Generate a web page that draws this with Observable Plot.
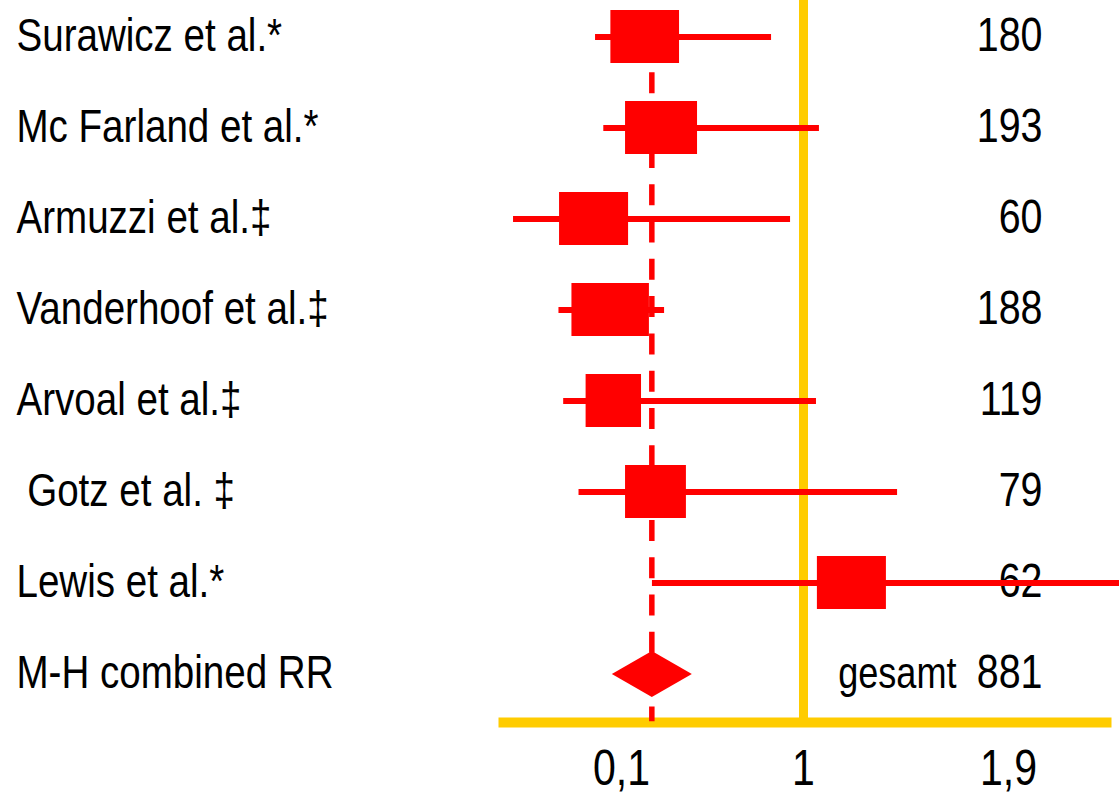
<!DOCTYPE html>
<html>
<head>
<meta charset="utf-8">
<script src="https://cdn.jsdelivr.net/npm/d3@7"></script>
<script src="https://cdn.jsdelivr.net/npm/@observablehq/plot@0.6"></script>
<style>
  html, body { margin: 0; padding: 0; background: #fff; overflow: hidden; }
</style>
</head>
<body>
<div id="chart"></div>
<script>
// ---- data ----
const studies = ["Surawicz et al.*", "Mc Farland et al.*", "Armuzzi et al.\u2021", "Vanderhoof et al.\u2021", "Arvoal et al.\u2021", "\u00a0Gotz et al. \u2021", "Lewis et al.*"];
const patients = [180, 193, 60, 188, 119, 79, 62];
const ciLow  = [0.078, 0.085, 0.0085, 0.047, 0.051, 0.064, 0.253];
const ciHigh = [0.842, 1.070, 0.936, 0.313, 1.057, 1.413, 2.39];
const boxLow  = [0.091, 0.120, 0.0475, 0.058, 0.070, 0.120, 1.061];
const boxHigh = [0.387, 0.476, 0.135, 0.238, 0.199, 0.421, 1.364];
const combinedLabel = "M-H combined RR";
const combinedRR = 0.25;
const totalLabel = "gesamt";
const totalPatients = 881;
const tickValues = [0.1, 1, 1.9];

// ---- table built from the arrays ----
const rows = studies.map((s, i) => ({study: s, n: patients[i], lo: ciLow[i], hi: ciHigh[i], b1: boxLow[i], b2: boxHigh[i]}));
const combined = [{study: combinedLabel, rr: combinedRR, n: totalPatients, label: totalLabel, from: studies[1]}];
const allRows = [...rows, ...combined];

const RED = "#ff0000";
const YELLOW = "#ffcc00";
const FONT = "'Liberation Sans', Arial, sans-serif";

const chart = Plot.plot({
  width: 1119,
  height: 797,
  marginLeft: 503,
  marginRight: 13,
  marginTop: 0,
  marginBottom: 75,
  style: {fontFamily: FONT, fontSize: "51px", color: "black", background: "white"},
  x: {type: "linear", domain: [0, 0.1, 1, 1.9], range: [503, 621, 803, 1008]},
  y: {type: "band", domain: allRows.map(d => d.study), range: [-10.6, 719.8], padding: 0, axis: null},
  marks: [
    Plot.ruleX([1], {stroke: YELLOW, strokeWidth: 9}),
    Plot.frame({anchor: "bottom", stroke: YELLOW, strokeWidth: 10}),
    Plot.axisX({ticks: tickValues, tickSize: 0, tickPadding: 27, fontSize: 50, fill: "black",
      tickFormat: d => String(d).replace(".", ","), label: null}),
    Plot.ruleX(combined, {x: "rr", y1: "from", y2: "study", insetTop: -9.7, insetBottom: -2.2, stroke: RED, strokeWidth: 5.5, strokeDasharray: "21 16.3"}),
    Plot.text(allRows, {y: "study", text: "study", frameAnchor: "left", textAnchor: "start", dx: -487, dy: -1, fontSize: 47, fill: "black"}),
    Plot.text(allRows, {y: "study", text: d => String(d.n), frameAnchor: "right", textAnchor: "end", dx: -64, dy: -1, fontSize: 48, fill: "black"}),
    Plot.text(combined, {y: "study", text: "label", frameAnchor: "right", textAnchor: "end", dx: -150, fontSize: 44, fill: "black"}),
    Plot.ruleY(rows, {y: "study", x1: "lo", x2: "hi", stroke: RED, strokeWidth: 6}),
    Plot.rect(rows, {y: "study", x1: "b1", x2: "b2", insetTop: 19, insetBottom: 19, fill: RED}),
    Plot.dot(combined, {x: "rr", y: "study", symbol: "diamond", r: 24.25, rotate: 90, fill: RED, stroke: "none"})
  ]
});
document.getElementById("chart").appendChild(chart);

// Condense the glyphs horizontally (Arial Narrow look) without changing anchors
chart.querySelectorAll("text").forEach(t => {
  const len = t.getComputedTextLength();
  if (len > 0) {
    t.setAttribute("textLength", (len * 0.82).toFixed(2));
    t.setAttribute("lengthAdjust", "spacingAndGlyphs");
  }
});
</script>
</body>
</html>
